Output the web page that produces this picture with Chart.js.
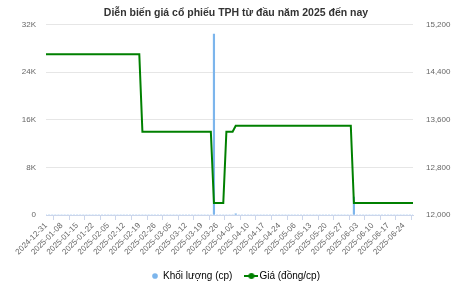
<!DOCTYPE html>
<html>
<head>
<meta charset="utf-8">
<script src="https://cdn.jsdelivr.net/npm/chart.js@4.4.1/dist/chart.umd.min.js"></script>
<style>
  html, body { margin: 0; padding: 0; background: #fff; }
</style>
</head>
<body>
<canvas id="myChart" width="472" height="283"></canvas>
<script>
var TITLE = 'Diễn biến giá cổ phiếu TPH từ đầu năm 2025 đến nay';
var VOLUME_LABEL = 'Khối lượng (cp)';
var PRICE_LABEL = 'Giá (đồng/cp)';

// trading days
var dates = [
    '2024-12-31', '2025-01-02', '2025-01-03', '2025-01-06', '2025-01-07',
    '2025-01-08', '2025-01-09', '2025-01-10', '2025-01-13', '2025-01-14',
    '2025-01-15', '2025-01-16', '2025-01-17', '2025-01-20', '2025-01-21',
    '2025-01-22', '2025-01-23', '2025-01-24', '2025-02-03', '2025-02-04',
    '2025-02-05', '2025-02-06', '2025-02-07', '2025-02-10', '2025-02-11',
    '2025-02-12', '2025-02-13', '2025-02-14', '2025-02-17', '2025-02-18',
    '2025-02-19', '2025-02-20', '2025-02-21', '2025-02-24', '2025-02-25',
    '2025-02-26', '2025-02-27', '2025-02-28', '2025-03-03', '2025-03-04',
    '2025-03-05', '2025-03-06', '2025-03-07', '2025-03-10', '2025-03-11',
    '2025-03-12', '2025-03-13', '2025-03-14', '2025-03-17', '2025-03-18',
    '2025-03-19', '2025-03-20', '2025-03-21', '2025-03-24', '2025-03-25',
    '2025-03-26', '2025-03-27', '2025-03-28', '2025-03-31', '2025-04-01',
    '2025-04-02', '2025-04-03', '2025-04-04', '2025-04-08', '2025-04-09',
    '2025-04-10', '2025-04-11', '2025-04-14', '2025-04-15', '2025-04-16',
    '2025-04-17', '2025-04-18', '2025-04-21', '2025-04-22', '2025-04-23',
    '2025-04-24', '2025-04-25', '2025-04-28', '2025-04-29', '2025-05-05',
    '2025-05-06', '2025-05-07', '2025-05-08', '2025-05-09', '2025-05-12',
    '2025-05-13', '2025-05-14', '2025-05-15', '2025-05-16', '2025-05-19',
    '2025-05-20', '2025-05-21', '2025-05-22', '2025-05-23', '2025-05-26',
    '2025-05-27', '2025-05-28', '2025-05-29', '2025-05-30', '2025-06-02',
    '2025-06-03', '2025-06-04', '2025-06-05', '2025-06-06', '2025-06-09',
    '2025-06-10', '2025-06-11', '2025-06-12', '2025-06-13', '2025-06-16',
    '2025-06-17', '2025-06-18', '2025-06-19', '2025-06-20', '2025-06-23',
    '2025-06-24', '2025-06-25', '2025-06-26', '2025-06-27'
];

var prices = [
    14700, 14700, 14700, 14700, 14700, 14700, 14700, 14700, 14700, 14700,
    14700, 14700, 14700, 14700, 14700, 14700, 14700, 14700, 14700, 14700,
    14700, 14700, 14700, 14700, 14700, 14700, 14700, 14700, 14700, 14700,
    14700, 13400, 13400, 13400, 13400, 13400, 13400, 13400, 13400, 13400,
    13400, 13400, 13400, 13400, 13400, 13400, 13400, 13400, 13400, 13400,
    13400, 13400, 13400, 13400, 12200, 12200, 12200, 12200, 13400, 13400,
    13400, 13500, 13500, 13500, 13500, 13500, 13500, 13500, 13500, 13500,
    13500, 13500, 13500, 13500, 13500, 13500, 13500, 13500, 13500, 13500,
    13500, 13500, 13500, 13500, 13500, 13500, 13500, 13500, 13500, 13500,
    13500, 13500, 13500, 13500, 13500, 13500, 13500, 13500, 13500, 12200,
    12200, 12200, 12200, 12200, 12200, 12200, 12200, 12200, 12200, 12200,
    12200, 12200, 12200, 12200, 12200, 12200, 12200, 12200, 12200
];

var volumes = [
    0, 0, 0, 0, 0, 0, 0, 0, 0, 0,
    0, 0, 0, 0, 0, 0, 0, 0, 0, 0,
    0, 0, 0, 0, 0, 0, 0, 0, 0, 0,
    0, 0, 0, 0, 0, 0, 0, 0, 0, 0,
    0, 0, 0, 0, 0, 0, 0, 0, 0, 0,
    0, 0, 0, 0, 30400, 0, 0, 0, 0, 0,
    0, 200, 0, 0, 0, 0, 0, 0, 0, 0,
    0, 0, 0, 0, 0, 0, 0, 0, 0, 0,
    0, 0, 0, 0, 0, 0, 0, 0, 0, 0,
    0, 0, 0, 0, 0, 0, 0, 0, 0, 3000,
    0, 0, 0, 0, 0, 0, 0, 0, 0, 0,
    0, 0, 0, 0, 0, 0, 0, 0, 0
];

var volumeTicks = [0, 8000, 16000, 24000, 32000];
var priceTicks = [12000, 12800, 13600, 14400, 15200];

var VOLUME_COLOR = '#7cb5ec',
    PRICE_COLOR = '#008000';

Chart.defaults.font.family = "'Liberation Sans', Arial, sans-serif";

// legend symbol for the price line: short line with a dot
function lineMarker() {
    var c = document.createElement('canvas'),
        ctx;
    c.width = 14;
    c.height = 8;
    ctx = c.getContext('2d');
    ctx.strokeStyle = PRICE_COLOR;
    ctx.lineWidth = 2;
    ctx.beginPath();
    ctx.moveTo(0, 4);
    ctx.lineTo(14, 4);
    ctx.stroke();
    ctx.fillStyle = PRICE_COLOR;
    ctx.beginPath();
    ctx.arc(7, 4, 3, 0, Math.PI * 2);
    ctx.fill();
    return c;
}

var createChart = function () {
    var marker = lineMarker();

    return new Chart(document.getElementById('myChart').getContext('2d'), {
        data: {
            labels: dates,
            datasets: [{
                type: 'line',
                label: PRICE_LABEL,
                data: prices,
                yAxisID: 'yPrice',
                borderColor: PRICE_COLOR,
                backgroundColor: PRICE_COLOR,
                borderWidth: 2,
                pointRadius: 0,
                tension: 0,
                fill: false
            }, {
                type: 'bar',
                label: VOLUME_LABEL,
                data: volumes,
                yAxisID: 'yVolume',
                backgroundColor: VOLUME_COLOR,
                borderWidth: 0,
                barThickness: 1.5
            }]
        },
        options: {
            responsive: false,
            animation: false,
            layout: { padding: { left: 0, right: 0, top: 0, bottom: -8 } },
            plugins: {
                tooltip: { enabled: false },
                title: {
                    display: true,
                    text: TITLE,
                    color: '#333333',
                    font: { size: 10.5, weight: 'bold' },
                    padding: { top: 7, bottom: 5 }
                },
                legend: {
                    position: 'bottom',
                    labels: {
                        color: '#333333',
                        font: { size: 10 },
                        usePointStyle: true,
                        boxWidth: 6,
                        boxHeight: 4,
                        padding: 16,
                        generateLabels: function () {
                            return [{
                                text: VOLUME_LABEL,
                                fillStyle: VOLUME_COLOR,
                                strokeStyle: VOLUME_COLOR,
                                lineWidth: 0,
                                pointStyle: 'circle',
                                datasetIndex: 1
                            }, {
                                text: PRICE_LABEL,
                                fillStyle: PRICE_COLOR,
                                strokeStyle: PRICE_COLOR,
                                lineWidth: 0,
                                pointStyle: marker,
                                datasetIndex: 0
                            }];
                        }
                    }
                }
            },
            scales: {
                x: {
                    offset: false,
                    grid: {
                        drawOnChartArea: false,
                        drawTicks: true,
                        tickLength: 5,
                        tickColor: '#ccd6eb'
                    },
                    border: { color: '#ccd6eb' },
                    ticks: {
                        autoSkip: false,
                        maxRotation: 45,
                        minRotation: 45,
                        padding: 1,
                        color: '#666666',
                        font: { size: 8 },
                        callback: function (value, index) {
                            return index % 5 === 0 ? dates[index] : null;
                        }
                    },
                    afterFit: function (scale) {
                        scale.height = 40;
                    }
                },
                yVolume: {
                    position: 'left',
                    min: volumeTicks[0],
                    max: volumeTicks[volumeTicks.length - 1],
                    afterBuildTicks: function (scale) {
                        scale.ticks = volumeTicks.map(function (v) { return { value: v }; });
                    },
                    grid: { color: '#e6e6e6', drawTicks: false },
                    border: { display: false },
                    ticks: {
                        color: '#666666',
                        font: { size: 8 },
                        padding: 10,
                        callback: function (value) {
                            return value === 0 ? '0' : (value / 1000) + 'K';
                        }
                    },
                    afterFit: function (scale) {
                        scale.width = 46;
                    }
                },
                yPrice: {
                    position: 'right',
                    min: priceTicks[0],
                    max: priceTicks[priceTicks.length - 1],
                    afterBuildTicks: function (scale) {
                        scale.ticks = priceTicks.map(function (v) { return { value: v }; });
                    },
                    grid: { drawOnChartArea: false, drawTicks: false },
                    border: { display: false },
                    ticks: {
                        color: '#666666',
                        font: { size: 8 },
                        padding: 13,
                        callback: function (value) {
                            return value.toLocaleString('en-US');
                        }
                    },
                    afterFit: function (scale) {
                        scale.width = 59;
                    }
                }
            }
        }
    });
};

createChart();
</script>
</body>
</html>
